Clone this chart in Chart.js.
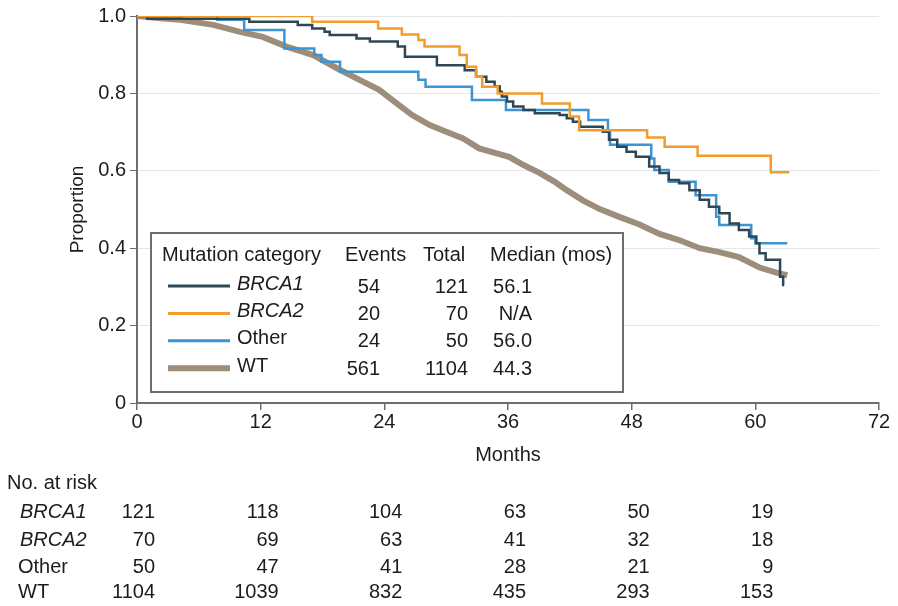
<!DOCTYPE html>
<html lang="en">
<head>
<meta charset="UTF-8">
<title>Survival by mutation category</title>
<script src="https://cdn.jsdelivr.net/npm/chart.js@4.4.1/dist/chart.umd.min.js"></script>
<style>
  html, body { margin: 0; padding: 0; background: #fff; }
</style>
</head>
<body>
<canvas id="km" width="898" height="606"></canvas>
<script>
// KM steps: month of each drop, proportion after it
var brca1Months = [0, 1.0, 10.9, 15.6, 17.0, 18.2, 18.7, 21.3, 22.6, 25.3, 26.0, 29.1, 31.8, 32.9, 33.9, 34.7, 35.2, 35.4, 35.9, 36.5, 37.5, 38.6, 41.0, 41.7, 42.3, 43.0, 45.2, 45.8, 46.6, 47.5, 48.4, 49.7, 50.7, 51.6, 52.6, 53.6, 54.6, 55.5, 56.5, 57.5, 58.4, 59.4, 60.1, 60.4, 61.0, 62.4, 62.7, 62.8];
var brca1Surv   = [1, 0.993, 0.985, 0.977, 0.968, 0.959, 0.951, 0.942, 0.934, 0.921, 0.895, 0.873, 0.860, 0.843, 0.830, 0.818, 0.804, 0.792, 0.779, 0.766, 0.757, 0.749, 0.744, 0.736, 0.727, 0.714, 0.701, 0.680, 0.662, 0.649, 0.636, 0.611, 0.594, 0.576, 0.568, 0.550, 0.525, 0.507, 0.490, 0.464, 0.447, 0.430, 0.413, 0.387, 0.370, 0.326, 0.305, 0.305];

var brca2Months = [0, 17.0, 23.4, 25.7, 27.3, 27.9, 31.3, 32.0, 32.9, 33.5, 35.0, 39.3, 42.0, 42.9, 49.5, 51.2, 54.4, 61.5, 63.3];
var brca2Surv   = [1, 0.985, 0.968, 0.952, 0.938, 0.921, 0.899, 0.869, 0.843, 0.817, 0.800, 0.774, 0.740, 0.705, 0.686, 0.662, 0.639, 0.596, 0.596];

var otherMonths = [0, 7.8, 10.4, 14.3, 17.2, 17.9, 19.7, 27.3, 28.0, 32.5, 35.8, 43.8, 45.7, 45.9, 49.9, 50.2, 51.6, 54.2, 56.2, 56.5, 59.6, 60.0, 63.1];
var otherSurv   = [1, 0.990, 0.964, 0.916, 0.899, 0.882, 0.856, 0.835, 0.817, 0.783, 0.757, 0.731, 0.705, 0.667, 0.632, 0.602, 0.572, 0.537, 0.481, 0.460, 0.426, 0.413, 0.413];

var wtMonths = [0, 2.0, 4.2, 7.4, 10.0, 12.2, 14.5, 17.1, 19.4, 21.3, 23.5, 25.2, 26.7, 28.4, 30.0, 31.6, 33.2, 34.9, 36.1, 37.5, 39.1, 40.5, 41.7, 43.3, 44.9, 46.8, 48.7, 50.7, 52.6, 54.6, 56.5, 58.4, 60.4, 62.3, 63.1];
var wtSurv   = [1, 0.995, 0.990, 0.977, 0.959, 0.946, 0.921, 0.899, 0.865, 0.839, 0.809, 0.774, 0.744, 0.718, 0.701, 0.684, 0.658, 0.645, 0.636, 0.615, 0.594, 0.572, 0.550, 0.523, 0.501, 0.481, 0.462, 0.437, 0.421, 0.400, 0.390, 0.377, 0.350, 0.335, 0.330];

// legend table
var groupNames  = ['BRCA1', 'BRCA2', 'Other', 'WT'];
var groupItalic = [true, true, false, false];
var groupEvents = ['54', '20', '24', '561'];
var groupTotal  = ['121', '70', '50', '1104'];
var groupMedian = ['56.1', 'N/A', '56.0', '44.3'];

// number at risk
var riskMonths = [0, 12, 24, 36, 48, 60];
var riskBRCA1  = [121, 118, 104, 63, 50, 19];
var riskBRCA2  = [70, 69, 63, 41, 32, 18];
var riskOther  = [50, 47, 41, 28, 21, 9];
var riskWT     = [1104, 1039, 832, 435, 293, 153];

var FONT = "'Liberation Sans', Arial, Helvetica, sans-serif";
var TEXT = '#1c1c1c';
var AXIS = '#6e6e6e';
var colors = ['#2e4756', '#f29c2b', '#3d94d0', '#9c8e7b'];
var widths = [2.5, 2.5, 2.5, 6];

var toPoints = function(months, surv) {
    var pts = [];
    for (var i = 0; i < months.length; i++) pts.push({ x: months[i], y: surv[i] });
    return pts;
};

// legend box + at-risk table, placed from the chart area and x scale
var kmTable = {
    id: 'kmTable',
    afterDraw: function(chart) {
        var ctx = chart.ctx, a = chart.chartArea, xs = chart.scales.x;
        ctx.save();

        var bx = a.left + 14, by = a.top + 217, bw = 472, bh = 159;
        ctx.fillStyle = '#fff';
        ctx.fillRect(bx, by, bw, bh);
        ctx.strokeStyle = AXIS;
        ctx.lineWidth = 2;
        ctx.strokeRect(bx, by, bw, bh);

        ctx.fillStyle = TEXT;
        ctx.textBaseline = 'middle';
        ctx.font = '20px ' + FONT;
        ctx.textAlign = 'left';
        ctx.fillText('Mutation category', bx + 11, by + 22);
        ctx.fillText('Events', bx + 194, by + 22);
        ctx.fillText('Total', bx + 272, by + 22);
        ctx.fillText('Median (mos)', bx + 339, by + 22);

        for (var i = 0; i < groupNames.length; i++) {
            var ry = by + 53 + i * 27.4;
            ctx.strokeStyle = colors[i];
            ctx.lineWidth = widths[i] === 6 ? 6 : 3;
            ctx.beginPath();
            ctx.moveTo(bx + 17, ry);
            ctx.lineTo(bx + 79, ry);
            ctx.stroke();

            ctx.font = (groupItalic[i] ? 'italic ' : '') + '20px ' + FONT;
            ctx.textAlign = 'left';
            ctx.fillText(groupNames[i], bx + 86, ry - 2);
            ctx.font = '20px ' + FONT;
            ctx.textAlign = 'right';
            ctx.fillText(groupEvents[i], bx + 229, ry + 1);
            ctx.fillText(groupTotal[i], bx + 317, ry + 1);
            ctx.fillText(groupMedian[i], bx + 381, ry + 1);
        }

        // No. at risk
        var rows = [riskBRCA1, riskBRCA2, riskOther, riskWT];
        var rowY = [a.bottom + 109, a.bottom + 137, a.bottom + 164, a.bottom + 189];
        ctx.textAlign = 'left';
        ctx.font = '20px ' + FONT;
        ctx.fillText('No. at risk', 7, a.bottom + 80);
        for (var r = 0; r < rows.length; r++) {
            ctx.textAlign = 'left';
            ctx.font = (groupItalic[r] ? 'italic ' : '') + '20px ' + FONT;
            ctx.fillText(groupNames[r], groupItalic[r] ? 20 : 18, rowY[r]);
            ctx.font = '20px ' + FONT;
            ctx.textAlign = 'right';
            for (var c = 0; c < riskMonths.length; c++) {
                ctx.fillText(String(rows[r][c]), xs.getPixelForValue(riskMonths[c]) + 18, rowY[r]);
            }
        }
        ctx.restore();
    }
};

var ctx = document.getElementById('km').getContext('2d');
var kmChart = new Chart(ctx, {
    type: 'line',
    data: {
        datasets: [
            { label: 'BRCA2', data: toPoints(brca2Months, brca2Surv), order: 1 },
            { label: 'BRCA1', data: toPoints(brca1Months, brca1Surv), order: 2 },
            { label: 'Other', data: toPoints(otherMonths, otherSurv), order: 3 },
            { label: 'WT', data: toPoints(wtMonths, wtSurv), order: 4 }
        ].map(function(d) {
            var i = groupNames.indexOf(d.label);
            d.borderColor = colors[i];
            d.backgroundColor = colors[i];
            d.borderWidth = widths[i];
            d.stepped = d.label === 'WT' ? false : 'before';
            d.pointRadius = 0;
            d.fill = false;
            return d;
        })
    },
    options: {
        responsive: false,
        animation: false,
        layout: { padding: { top: 16, right: 19, bottom: 133, left: 0 } },
        plugins: { legend: { display: false }, tooltip: { enabled: false } },
        scales: {
            x: {
                type: 'linear', min: 0, max: 72,
                ticks: { stepSize: 12, color: TEXT, font: { family: FONT, size: 20 }, padding: 0, maxRotation: 0 },
                grid: { drawOnChartArea: false, tickLength: 7, color: AXIS, lineWidth: 1.5 },
                border: { color: AXIS, width: 2 },
                title: { display: true, text: 'Months', color: TEXT, font: { family: FONT, size: 20 }, padding: { top: 0, bottom: 6 } },
                afterFit: function(s) { s.height = 70; }
            },
            y: {
                min: 0, max: 1,
                ticks: {
                    stepSize: 0.2, color: TEXT, font: { family: FONT, size: 20 }, padding: 4,
                    callback: function(v) { return v === 0 ? '0' : v.toFixed(1); }
                },
                grid: { color: '#e6e6ea', tickColor: AXIS, tickLength: 7, lineWidth: 1 },
                border: { color: AXIS, width: 2 },
                title: { display: true, text: 'Proportion', color: TEXT, font: { family: FONT, size: 19 }, padding: { top: 66, bottom: 0 } },
                afterFit: function(s) { s.width = 137; }
            }
        }
    },
    plugins: [kmTable]
});
</script>
</body>
</html>
